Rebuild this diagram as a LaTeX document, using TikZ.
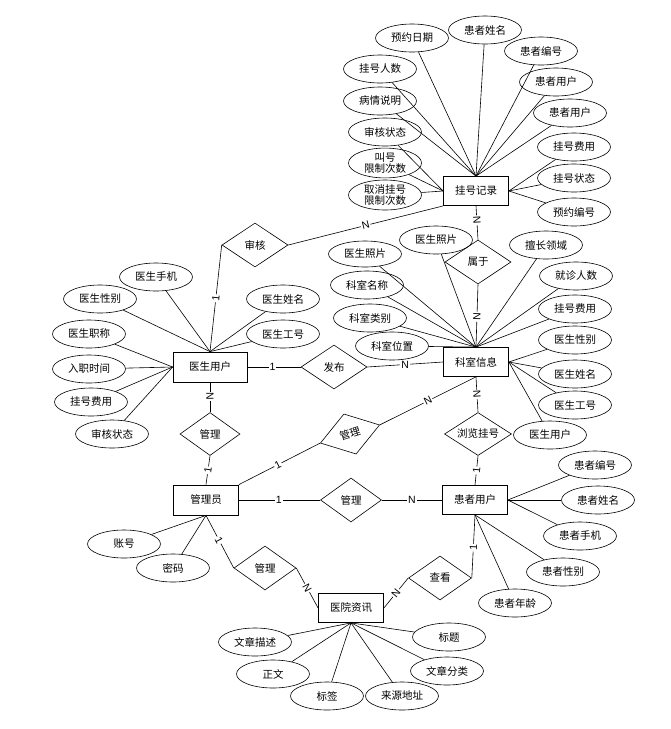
\documentclass[tikz,border=0pt]{standalone}
\usepackage{fontspec}
\setmainfont{Liberation Sans}
\newfontfamily\cjk{Noto Sans CJK SC}
\usetikzlibrary{shapes.geometric}
\begin{document}
\begin{tikzpicture}[x=1pt,y=-1pt,
  every node/.style={font=\cjk\fontsize{10.5}{11.5}\selectfont},
  ln/.style={line width=0.6pt},
  ent/.style={draw, line width=0.8pt, rectangle, minimum width=65pt, minimum height=29pt, inner sep=0pt},
  rel/.style={draw, line width=0.6pt, diamond, minimum width=66pt, minimum height=44pt, inner sep=0pt, aspect=1.5},
  attr/.style={draw, line width=0.6pt, ellipse, minimum width=73pt, minimum height=28pt, inner sep=0pt},
  lbl/.style={fill=white, inner sep=1pt, font=\fontsize{10.5}{11.5}\selectfont}]
\useasboundingbox (0,0) rectangle (671,729);

% entities
\node[ent] (gh) at (476,191) {挂号记录};
\node[ent] (ks) at (476,362) {科室信息};
\node[ent, minimum width=74pt, minimum height=30pt] (ys) at (210,367) {医生用户};
\node[ent, minimum height=30pt] (gly) at (206,500) {管理员};
\node[ent] (hz) at (475,500) {患者用户};
\node[ent] (zx) at (351,608) {医院资讯};

% relations
\node[rel] (sh) at (255,245) {审核};
\node[rel] (sy) at (478,262) {属于};
\node[rel] (fb) at (334,367) {发布};
\node[rel, minimum width=60pt, minimum height=43pt] (gl1) at (210,434) {管理};
\node[rel, minimum width=62pt, minimum height=42pt, rotate=17] (gl2) at (350,434) {管理};
\node[rel, minimum width=61pt] (gl3) at (351,500) {管理};
\node[rel, minimum width=62pt] (gl4) at (265,568) {管理};
\node[rel, minimum width=67pt, minimum height=43pt] (ll) at (478,434) {浏览挂号};
\node[rel, minimum width=63pt] (ck) at (440,578) {查看};

% relationship connectors
\draw[ln] (ys.north) -- node[lbl, sloped, pos=0.5] {1} (sh.west);
\draw[ln] (sh.east) -- node[lbl, sloped, pos=0.5] {N} (gh.south west);
\draw[ln] (gh.south) -- node[lbl, sloped, pos=0.42] {N} (sy.north);
\draw[ln] (sy.south) -- node[lbl, sloped, pos=0.52] {N} (ks.north);
\draw[ln] (ys.east) -- node[lbl, pos=0.47] {1} (fb.west);
\draw[ln] (fb.east) -- node[lbl, pos=0.5] {N} (ks.west);
\draw[ln] (ys.south) -- node[lbl, sloped, pos=0.47] {N} (gl1.north);
\draw[ln] (gl1.south) -- node[lbl, sloped, pos=0.5] {1} (gly.north);
\draw[ln] (gly.north east) -- node[lbl, sloped, pos=0.48] {1} (gl2.west);
\draw[ln] (gl2.east) -- node[lbl, sloped, pos=0.5] {N} (ks.south);
\draw[ln] (gly.east) -- node[lbl, pos=0.49] {1} (gl3.west);
\draw[ln] (gl3.east) -- node[lbl, pos=0.5] {N} (hz.west);
\draw[ln] (ks.south) -- node[lbl, sloped, pos=0.5] {N} (ll.north);
\draw[ln] (ll.south) -- node[lbl, sloped, pos=0.5] {1} (hz.north);
\draw[ln] (gly.south) -- node[lbl, sloped, pos=0.47] {1} (gl4.west);
\draw[ln] (gl4.east) -- node[lbl, sloped, pos=0.5] {N} (zx.west);
\draw[ln] (zx.east) -- node[lbl, sloped, pos=0.5] {N} (ck.west);
\draw[ln] (ck.east) -- node[lbl, sloped, pos=0.48] {1} (hz.south);

% attributes of 挂号记录
\node[attr] (g1) at (412,38) {预约日期};
\node[attr] (g2) at (485,30) {患者姓名};
\node[attr] (g3) at (541,51) {患者编号};
\node[attr] (g4) at (556,82) {患者用户};
\node[attr] (g5) at (570,113) {患者用户};
\node[attr] (g6) at (574,147) {挂号费用};
\node[attr] (g7) at (574,178) {挂号状态};
\node[attr] (g8) at (574,212) {预约编号};
\node[attr] (g9) at (380,69) {挂号人数};
\node[attr] (g10) at (380,101) {病情说明};
\node[attr] (g11) at (385,132) {审核状态};
\node[attr, align=center] (g12) at (385,163) {叫号\\限制次数};
\node[attr, align=center] (g13) at (385,195) {取消挂号\\限制次数};
\foreach \a in {g1,g2,g3,g4,g5,g9,g10} \draw[ln] (\a) -- (gh.north);
\foreach \a in {g6,g7,g8} \draw[ln] (\a) -- (gh.east);
\foreach \a in {g11,g12,g13} \draw[ln] (\a) -- (gh.west);

% attributes of 科室信息
\node[attr, minimum height=26pt] (k1) at (365,254) {医生照片};
\node[attr] (k2) at (436,240) {医生照片};
\node[attr] (k3) at (546,245) {擅长领域};
\node[attr] (k4) at (367,285) {科室名称};
\node[attr] (k5) at (576,276) {就诊人数};
\node[attr] (k6) at (370,318) {科室类别};
\node[attr] (k7) at (575,309) {挂号费用};
\node[attr] (k8) at (392,346) {科室位置};
\node[attr] (k9) at (575,340) {医生性别};
\node[attr] (k10) at (575,374) {医生姓名};
\node[attr] (k11) at (575,405) {医生工号};
\node[attr] (k12) at (550,435) {医生用户};
\foreach \a in {k1,k2,k3,k4,k5,k6,k7,k8} \draw[ln] (\a) -- (ks.north);
\foreach \a in {k9,k10,k11,k12} \draw[ln] (\a) -- (ks.east);

% attributes of 医生用户
\node[attr] (y1) at (156,277) {医生手机};
\node[attr] (y2) at (100,299) {医生性别};
\node[attr] (y3) at (283,299) {医生姓名};
\node[attr] (y4) at (89,334) {医生职称};
\node[attr] (y5) at (283,334) {医生工号};
\node[attr] (y6) at (89,369) {入职时间};
\node[attr] (y7) at (91,402) {挂号费用};
\node[attr] (y8) at (112,434) {审核状态};
\foreach \a in {y1,y2,y3,y5} \draw[ln] (\a) -- (ys.north);
\foreach \a in {y4,y6,y7,y8} \draw[ln] (\a) -- (ys.west);

% attributes of 管理员
\node[attr] (a1) at (124,544) {账号};
\node[attr] (a2) at (173,568) {密码};
\foreach \a in {a1,a2} \draw[ln] (\a) -- (gly.south);

% attributes of 患者用户
\node[attr] (h1) at (595,465) {患者编号};
\node[attr] (h2) at (598,500) {患者姓名};
\node[attr] (h3) at (580,536) {患者手机};
\node[attr] (h4) at (563,572) {患者性别};
\node[attr] (h5) at (515,603) {患者年龄};
\foreach \a in {h1,h2,h3} \draw[ln] (\a) -- (hz.east);
\foreach \a in {h4,h5} \draw[ln] (\a) -- (hz.south);

% attributes of 医院资讯
\node[attr] (z1) at (255,642) {文章描述};
\node[attr] (z2) at (273,674) {正文};
\node[attr] (z3) at (327,696) {标签};
\node[attr] (z4) at (402,696) {来源地址};
\node[attr] (z5) at (447,671) {文章分类};
\node[attr] (z6) at (449,637) {标题};
\foreach \a in {z1,z2,z3,z4,z5,z6} \draw[ln] (\a) -- (zx.south);
\end{tikzpicture}
\end{document}
